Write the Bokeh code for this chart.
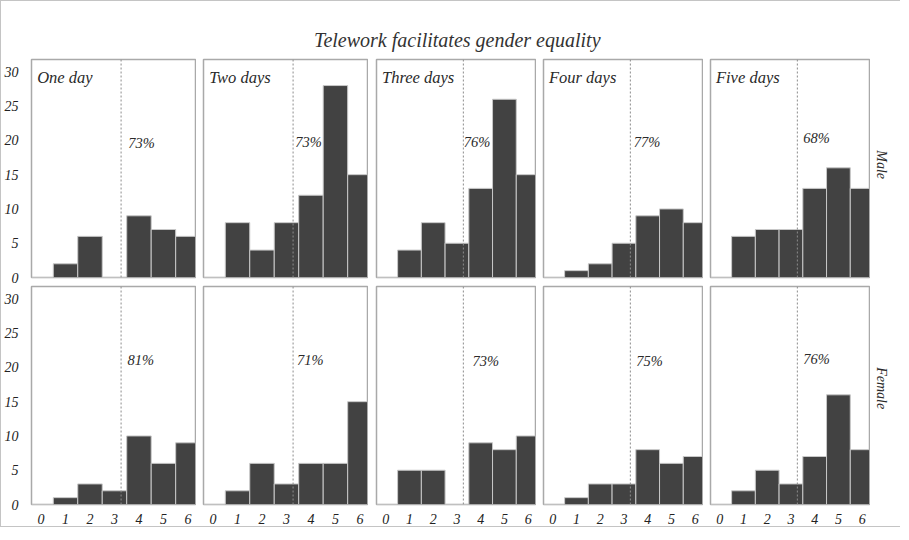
from math import pi
from bokeh.plotting import figure
from bokeh.layouts import row, column
from bokeh.models import Span, Label, FixedTicker
from bokeh.core.properties import value
from bokeh.embed import file_html
from bokeh.resources import INLINE

# ---------------- data ----------------
title = "Telework facilitates gender equality"
scores = [0, 1, 2, 3, 4, 5, 6]
panels = ["One day", "Two days", "Three days", "Four days", "Five days"]
row_labels = ["Male", "Female"]
male_counts = [
    [0, 2, 6, 0, 9, 7, 6],
    [0, 8, 4, 8, 12, 28, 15],
    [0, 4, 8, 5, 13, 26, 15],
    [0, 1, 2, 5, 9, 10, 8],
    [0, 6, 7, 7, 13, 16, 13],
]
female_counts = [
    [0, 1, 3, 2, 10, 6, 9],
    [0, 2, 6, 3, 6, 6, 15],
    [0, 5, 5, 0, 9, 8, 10],
    [0, 1, 3, 3, 8, 6, 7],
    [0, 2, 5, 3, 7, 16, 8],
]
male_pct = ["73%", "73%", "76%", "77%", "68%"]
female_pct = ["81%", "71%", "73%", "75%", "76%"]
y_ticks = [0, 5, 10, 15, 20, 25, 30]
cutoff = 3.27

# ---------------- layout / style ----------------
FONT = "Liberation Serif"
TXT = "#2a2a2a"
frame_w = [164, 164, 159, 159, 159]
left_b = [23, 7, 8, 7, 7]
pct_x = [[3.56, 3.36, 3.29, 3.41, 3.52], [3.53, 3.43, 3.66, 3.52, 3.52]]
pct_y = [[19.6, 19.7, 19.7, 19.7, 20.3], [21.1, 21.1, 20.9, 20.9, 21.2]]
FH = 218


def make_panel(r, c, counts, pct):
    bottom = r == 1
    leftcol = c == 0
    top_b, bot_b = (1, 19) if bottom else (1, 8)
    p = figure(frame_width=frame_w[c], frame_height=FH,
               x_range=(-0.39, 6.31), y_range=(0, 31.8),
               min_border_left=left_b[c], min_border_right=1,
               min_border_top=top_b, min_border_bottom=bot_b,
               x_axis_location="below" if bottom else None,
               y_axis_location="left" if leftcol else None,
               toolbar_location=None, tools="", output_backend="svg")
    p.grid.grid_line_color = None
    p.outline_line_color = "#a9a9a9"
    p.outline_line_width = 1.5
    p.background_fill_color = "white"
    p.vbar(x=scores, top=counts, bottom=0, width=1.0,
           fill_color="#424242", line_color="#c8c8c8", line_width=1)
    p.add_layout(Span(location=cutoff, dimension="height",
                      line_color="#8c8c8c", line_dash="2 2", line_width=1))
    p.add_layout(Label(x=pct_x[r][c], y=pct_y[r][c], text=pct,
                       text_font=FONT, text_font_style="italic",
                       text_font_size="14.5px", text_baseline="middle",
                       text_color=TXT))
    if not bottom:
        p.add_layout(Label(x=-0.16, y=29.2, text=panels[c],
                           text_font=FONT, text_font_style="italic",
                           text_font_size="16.5px", text_baseline="middle",
                           text_color=TXT))
    for ax in p.axis:
        ax.axis_line_color = None
        ax.major_tick_line_color = None
        ax.minor_tick_line_color = None
        ax.major_label_text_font = FONT
        ax.major_label_text_font_style = "italic"
        ax.major_label_text_font_size = "14px"
        ax.major_label_text_color = "#222222"
    if bottom:
        p.xaxis.ticker = FixedTicker(ticks=scores)
        p.xaxis.major_label_standoff = 3
    if leftcol:
        p.yaxis.ticker = FixedTicker(ticks=y_ticks)
        p.yaxis.major_label_standoff = 7
    return p


def side_label(text, h, yfrac):
    p = figure(frame_width=30, frame_height=h, x_range=(0, 1), y_range=(0, 1),
               min_border=0, x_axis_location=None, y_axis_location=None,
               toolbar_location=None, tools="", output_backend="svg")
    p.grid.grid_line_color = None
    p.outline_line_color = None
    p.text(x=[0.37], y=[yfrac], text=[text], angle=-pi / 2,
           text_font=value(FONT), text_font_style="italic",
           text_font_size="14px", text_align="center",
           text_baseline="middle", text_color=TXT)
    return p


tp = figure(frame_width=892, frame_height=57, x_range=(0, 1), y_range=(0, 1),
            min_border=0, x_axis_location=None, y_axis_location=None,
            toolbar_location=None, tools="", output_backend="svg")
tp.grid.grid_line_color = None
tp.outline_line_color = None
tp.text(x=[0.511], y=[0.333], text=[title], text_font=value(FONT),
        text_font_style="italic", text_font_size="20px", text_align="center",
        text_baseline="middle", text_color="#333333")

male_figs = [make_panel(0, c, male_counts[c], male_pct[c]) for c in range(5)]
female_figs = [make_panel(1, c, female_counts[c], female_pct[c]) for c in range(5)]
male_figs.append(side_label(row_labels[0], 227, 0.537))
female_figs.append(side_label(row_labels[1], 238, 0.573))

layout = column(tp, row(*male_figs), row(*female_figs),
                styles={"border-left": "1px solid #c4c4c4",
                        "border-top": "1px solid #c4c4c4",
                        "border-bottom": "1px solid #c4c4c4"})

open("out.html", "w").write(file_html(layout, INLINE))
